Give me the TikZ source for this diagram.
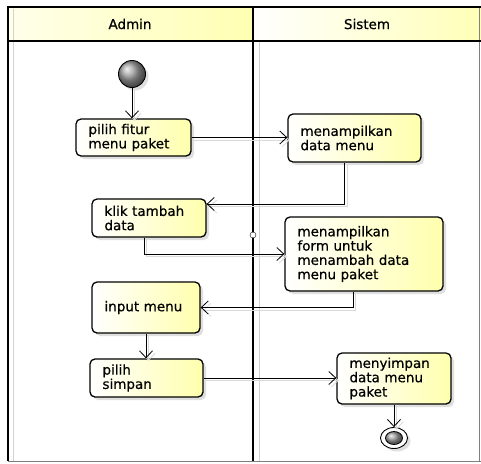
\documentclass[tikz,border=0pt]{standalone}
\usepackage{fontspec}
\newfontfamily\diagfont[FakeBold=0.5]{DejaVu Sans}
\usetikzlibrary{arrows.meta, calc, shapes.geometric, shadows}

\begin{document}
\begin{tikzpicture}[x=1pt, y=-1pt,
  font=\diagfont\fontsize{13.5}{14.3}\selectfont,
  action/.style={rectangle, rounded corners=5pt, draw, line width=1.3pt,
    left color=white, right color=yellow!32, align=left, inner xsep=12.5pt,
    inner ysep=2pt,
    drop shadow={shadow xshift=3pt, shadow yshift=-3pt, fill=gray, opacity=0.25}},
  flow/.style={-{Straight Barb[length=7pt, width=13pt]}, line width=0.8pt,
    preaction={draw=gray!30, line width=0.8pt, transform canvas={shift={(2.5pt,-2.5pt)}}}},
  lane/.style={line width=1.6pt}]
\useasboundingbox (0,0) rectangle (481,463);

% Lane headers
\shade[left color=yellow!8, right color=yellow!30] (8,7) rectangle (253,41);
\shade[left color=white, right color=yellow!28] (253,7) rectangle (481,41);
\node (admin) at (130,24) {Admin};
\node (sistem) at (367,24) {Sistem};

% Lane borders
\draw[gray!35, line width=1pt] (13,9) -- (13,461);
\draw[gray!35, line width=1pt] (259,41) -- (259,461);
\draw[gray, line width=1pt] (8,461) -- (481,461);
\draw[gray, line width=1pt] (479,7) -- (479,461);
\draw[lane] (8,461) -- (8,7) -- (481,7);
\draw[lane] (8,41) -- (481,41);
\draw[lane] (253,7) -- (253,461);
\node[circle, draw, fill=white, inner sep=0pt, minimum size=6pt] (jn) at (253,235) {};

% Start
\node[circle, draw, line width=0.9pt, ball color=gray!75, minimum size=27pt, inner sep=0pt,
  drop shadow={shadow xshift=3pt, shadow yshift=-3pt, fill=gray, opacity=0.25}] (start) at (132,74) {};

% Actions
\node[action, text width=90pt, minimum height=37pt] (fitur) at (133.5,137.5) {pilih fitur\\menu paket};
\node[action, text width=108pt, minimum height=48pt] (tampil) at (354.5,138) {menampilkan\\data menu};
\node[action, text width=89pt, minimum height=38pt] (tambah) at (149,218) {klik tambah\\data};
\node[action, text width=133pt, minimum height=74pt] (form) at (364,254) {menampilkan\\form untuk\\menambah data\\menu paket};
\node[action, text width=83pt, minimum height=51pt] (input) at (146,307.5) {input menu};
\node[action, text width=88pt, minimum height=38pt] (simpan) at (146.5,378) {pilih\\simpan};
\node[action, text width=89pt, minimum height=51pt] (menyimpan) at (394,378.5) {menyimpan\\data menu\\paket};

% End
\node[ellipse, draw, line width=0.9pt, fill=white, minimum width=27pt, minimum height=21pt, inner sep=0pt,
  drop shadow={shadow xshift=3pt, shadow yshift=-3pt, fill=gray, opacity=0.25}] (end) at (394,438) {};
\shade[ball color=gray!75, draw=black, line width=0.8pt] (end.center) ellipse (8.5pt and 6.5pt);

% Flows
\draw[flow] (start) -- (start |- fitur.north);
\draw[flow] (fitur.east) -- (fitur.east -| tampil.west);
\draw[flow] ([xshift=-10pt]tampil.south) |- ([yshift=14pt]tambah.east);
\draw[flow] ([xshift=-5pt]tambah.south) |- (form.west);
\draw[flow] ([xshift=-11pt]form.south) |- (input.east);
\draw[flow] (input.south) -- (input.south |- simpan.north);
\draw[flow] (simpan.east) -- (simpan.east -| menyimpan.west);
\draw[flow] (menyimpan.south) -- (end.north);
\end{tikzpicture}
\end{document}
